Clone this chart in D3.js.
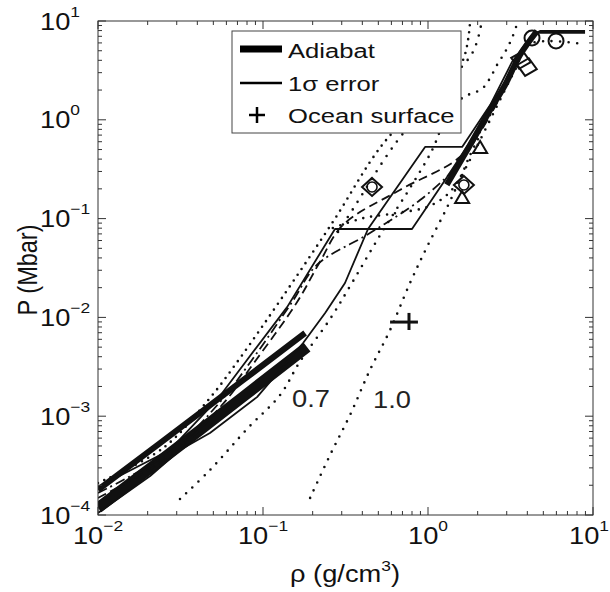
<!DOCTYPE html>
<html><head><meta charset="utf-8">
<script src="https://cdn.jsdelivr.net/npm/d3@7"></script>
<style>body{margin:0;background:#fff}svg{display:block}</style>
</head><body>
<svg id="c" width="610" height="592"></svg>
<script>
// ---------- data (rho in g/cm^3, P in Mbar) ----------
const adiabatA = [[0.01,1.8e-4],[0.0415,1.08e-3],[0.18,6.95e-3]];
const adiabatB = [[0.01,1.18e-4],[0.0415,7.24e-4],[0.185,5.0e-3]];
const errUpper = [[0.01,1.92e-4],[0.0273,4.55e-4],[0.0526,1.46e-3],[0.080,3.71e-3],[0.140,1.27e-2],[0.273,7.85e-2],[0.80,7.85e-2],[1.27,0.246],[1.67,0.494],[2.55,1.48],[3.37,3.76],[4.45,7.57],[8.95,7.57]];
const errLower = [[0.01,1.05e-4],[0.0207,2.48e-4],[0.0314,4.55e-4],[0.0477,6.76e-4],[0.092,1.56e-3],[0.175,5.5e-3],[0.238,1.11e-2],[0.314,2.23e-2],[0.433,7.85e-2],[0.96,0.531],[1.61,0.531],[2.38,1.41],[3.23,3.85],[4.27,7.21],[4.77,7.92],[8.95,7.92]];
const modelDashDot = [[0.01,1.67e-4],[0.0273,4.34e-4],[0.0548,1.39e-3],[0.0857,3.71e-3],[0.150,1.43e-2],[0.212,3.39e-2],[0.445,7.14e-2],[0.895,0.154],[1.46,0.325],[1.93,0.625],[2.62,1.48],[3.41,3.76],[4.45,7.38]];
const modelDashed = [[0.01,1.49e-4],[0.0273,3.95e-4],[0.0565,1.30e-3],[0.0908,3.71e-3],[0.161,1.43e-2],[0.221,3.64e-2],[0.305,8.61e-2],[0.676,0.195],[1.56,0.42],[2.07,0.826],[2.73,1.91],[3.51,4.23],[4.45,7.21]];
const dottedA = [[0.01,2.11e-4],[0.0248,4.76e-4],[0.0477,1.53e-3],[0.0726,3.88e-3],[0.130,1.57e-2],[0.265,9.24e-2],[0.533,0.569],[1.03,1.78],[1.61,3.85],[1.80,10]];
const dottedB = [[0.285,7.31e-2],[0.351,0.125],[0.631,0.569],[1.18,2.0],[1.87,4.85],[2.12,10]];
const dottedC = [[0.265,8.04e-2],[0.404,0.101],[0.649,0.114],[0.986,0.131],[1.30,0.173],[1.56,0.258],[1.80,0.441],[2.07,0.701]];
const isentrope07 = [[0.0314,1.45e-4],[0.0477,2.85e-4],[0.0811,7.6e-4],[0.127,1.64e-3],[0.167,3.54e-3],[0.255,9.64e-3],[0.346,2.23e-2],[0.526,7.31e-2],[0.778,0.204],[1.06,0.494],[1.27,0.995],[1.61,1.66],[2.12,2.05],[2.38,2.65],[2.62,3.59],[2.93,4.85],[3.23,6.73],[3.51,10]];
const isentrope10 = [[0.193,1.49e-4],[0.255,4.05e-4],[0.337,1.03e-3],[0.445,2.94e-3],[0.589,7.45e-3],[0.778,2.23e-2],[0.986,5.16e-2],[1.30,0.128],[1.61,0.276],[1.93,0.494],[2.55,1.26],[3.37,3.19],[4.15,5.85],[8.69,5.85]];
const interiorBand = [[1.30,0.22],[1.80,0.556],[2.38,1.26],[2.93,2.25],[3.61,4.53],[4.58,7.92]];

const bigCircleRho = [4.27, 5.97];
const bigCircleP   = [6.73, 6.28];
const diamondRho = [0.458, 1.65, 3.66, 3.98];
const diamondP   = [0.209, 0.219, 4.03, 3.42];
const smallCircleRho = [0.458, 1.65];
const smallCircleP   = [0.209, 0.219];
const triangleRho = [2.07, 1.61];
const triangleP   = [0.519, 0.162];

const oceanRho = 0.767, oceanP = 0.00897;
const oceanRhoRange = [0.589, 0.869];
const oceanPRange = [0.00745, 0.0111];

const curveLabels = ["0.7", "1.0"];
const curveLabelRho = [0.150, 0.464];
const curveLabelP = [1.24e-3, 1.21e-3];

const xExponents = [-2, -1, 0, 1];
const yExponents = [-4, -3, -2, -1, 0, 1];
const legendLabels = ["Adiabat", "1\u03C3 error", "Ocean surface"];
const xTitle = "\u03C1 (g/cm";
const yTitle = "P (Mbar)";

// ---------- layout ----------
const L = 98, R = 593, T = 21, B = 515;
const FONT = "'Liberation Sans', Arial, Helvetica, sans-serif";
const x = d3.scaleLog().domain([1e-2, 1e1]).range([L, R]);
const y = d3.scaleLog().domain([1e-4, 1e1]).range([B, T]);
const svg = d3.select("#c");
svg.append("rect").attr("width", 610).attr("height", 592).attr("fill", "#fff");
svg.append("defs").append("clipPath").attr("id", "clip")
  .append("rect").attr("x", L).attr("y", T).attr("width", R - L).attr("height", B - T);

const plot = svg.append("g").attr("clip-path", "url(#clip)");
const lin = d3.line().x(d => x(d[0])).y(d => y(d[1]));
const smooth = d3.line().curve(d3.curveCatmullRom.alpha(0.5)).x(d => x(d[0])).y(d => y(d[1]));

const series = [
  {d: adiabatB, gen: smooth, w: 11},
  {d: adiabatA, gen: smooth, w: 6},
  {d: interiorBand, gen: smooth, w: 6},
  {d: isentrope07, gen: smooth, w: 2.6, dash: "0,8.5", cap: "round"},
  {d: isentrope10, gen: smooth, w: 2.6, dash: "0,8.5", cap: "round"},
  {d: dottedA, gen: smooth, w: 2.6, dash: "0,7", cap: "round"},
  {d: dottedB, gen: smooth, w: 2.6, dash: "0,9", cap: "round"},
  {d: dottedC, gen: smooth, w: 2.6, dash: "0,8", cap: "round"},
  {d: modelDashDot, gen: smooth, w: 1.8, dash: "10,4,2,4"},
  {d: modelDashed, gen: smooth, w: 1.8, dash: "9,5"},
  {d: errUpper, gen: lin, w: 1.8},
  {d: errLower, gen: lin, w: 1.8}
];
series.forEach(s => {
  plot.append("path").attr("d", s.gen(s.d)).attr("fill", "none")
    .attr("stroke", "#111").attr("stroke-width", s.w)
    .attr("stroke-dasharray", s.dash || null)
    .attr("stroke-linecap", s.cap || "butt")
    .attr("stroke-linejoin", "round");
});

// markers
const dia = "M0,-9L10,0L0,9L-10,0Z";
diamondRho.forEach((r, i) => {
  plot.append("path").attr("d", dia)
    .attr("transform", `translate(${x(r)},${y(diamondP[i])}) rotate(${i >= 2 ? 12 : 0})`)
    .attr("fill", "none").attr("stroke", "#111").attr("stroke-width", 2);
});
smallCircleRho.forEach((r, i) => {
  plot.append("circle").attr("cx", x(r)).attr("cy", y(smallCircleP[i])).attr("r", 5)
    .attr("fill", "none").attr("stroke", "#111").attr("stroke-width", 1.6);
});
bigCircleRho.forEach((r, i) => {
  plot.append("circle").attr("cx", x(r)).attr("cy", y(bigCircleP[i])).attr("r", 7.5)
    .attr("fill", "none").attr("stroke", "#111").attr("stroke-width", 2);
});
triangleRho.forEach((r, i) => {
  plot.append("path").attr("d", "M0,-7L7,5L-7,5Z")
    .attr("transform", `translate(${x(r)},${y(triangleP[i])})`)
    .attr("fill", "none").attr("stroke", "#111").attr("stroke-width", 2);
});
// ocean surface
plot.append("line").attr("x1", x(oceanRhoRange[0])).attr("x2", x(oceanRhoRange[1]))
  .attr("y1", y(oceanP)).attr("y2", y(oceanP)).attr("stroke", "#111").attr("stroke-width", 3);
plot.append("line").attr("x1", x(oceanRho)).attr("x2", x(oceanRho))
  .attr("y1", y(oceanPRange[0])).attr("y2", y(oceanPRange[1])).attr("stroke", "#111").attr("stroke-width", 3);

function sText(parent, px, py, sx, size, anchor) {
  return parent.append("text").attr("transform", `translate(${px},${py}) scale(${sx},1)`)
    .attr("font-family", FONT).attr("font-size", size).attr("fill", "#111")
    .attr("text-anchor", anchor || "start");
}
curveLabels.forEach((t, i) => {
  sText(svg, x(curveLabelRho[i]), y(curveLabelP[i]), 1.16, 23.5).attr("fill", "#222").text(t);
});

// legend
const lg = svg.append("g");
lg.append("rect").attr("x", 232).attr("y", 31).attr("width", 229).attr("height", 102)
  .attr("fill", "#fff").attr("stroke", "#444").attr("stroke-width", 1);
lg.append("line").attr("x1", 240).attr("x2", 282).attr("y1", 49).attr("y2", 49).attr("stroke", "#000").attr("stroke-width", 7);
lg.append("line").attr("x1", 240).attr("x2", 282).attr("y1", 83).attr("y2", 83).attr("stroke", "#000").attr("stroke-width", 2.5);
lg.append("line").attr("x1", 249).attr("x2", 265).attr("y1", 115).attr("y2", 115).attr("stroke", "#000").attr("stroke-width", 2.5);
lg.append("line").attr("x1", 257).attr("x2", 257).attr("y1", 107).attr("y2", 123).attr("stroke", "#000").attr("stroke-width", 2.5);
[58, 91, 123].forEach((by, i) => sText(lg, 288, by, 1.22, 21).text(legendLabels[i]));

// frame & ticks
const ax = svg.append("g").attr("stroke", "#333").attr("stroke-width", 1);
ax.append("rect").attr("x", L).attr("y", T).attr("width", R - L).attr("height", B - T).attr("fill", "none");
const isMajor = t => Math.abs(Math.log10(t) - Math.round(Math.log10(t))) < 1e-6;
x.ticks().forEach(t => {
  const len = isMajor(t) ? 8 : 4, px = x(t);
  ax.append("line").attr("x1", px).attr("x2", px).attr("y1", B).attr("y2", B - len);
  ax.append("line").attr("x1", px).attr("x2", px).attr("y1", T).attr("y2", T + len);
});
y.ticks().forEach(t => {
  const len = isMajor(t) ? 8 : 4, py = y(t);
  ax.append("line").attr("y1", py).attr("y2", py).attr("x1", L).attr("x2", L + len);
  ax.append("line").attr("y1", py).attr("y2", py).attr("x1", R).attr("x2", R - len);
});
const expStr = e => (e < 0 ? "\u2212" + Math.abs(e) : String(e));
xExponents.forEach(e => {
  let cx = x(Math.pow(10, e));
  const t = sText(svg, cx, 544, 1.16, 23.5, "middle");
  t.append("tspan").text("10");
  t.append("tspan").attr("font-size", 15).attr("dy", -13).text(expStr(e));
  const w = t.node().getBBox().width * 1.16;
  if (cx + w / 2 > 609) { cx = 609 - w / 2; t.attr("transform", `translate(${cx},544) scale(1.16,1)`); }
});
yExponents.forEach(e => {
  const t = sText(svg, 40, y(Math.pow(10, e)) + 8.5, 1.16, 23.5, "start");
  t.append("tspan").text("10");
  t.append("tspan").attr("font-size", 15).attr("dy", -13).text(expStr(e));
});
// axis titles
const xt = sText(svg, 345, 582, 1.16, 23.5, "middle");
xt.append("tspan").text(xTitle);
xt.append("tspan").attr("font-size", 15).attr("dy", -11).text("3");
xt.append("tspan").attr("dy", 11).text(")");
svg.append("text").attr("transform", "translate(37,270) scale(1.16,1) rotate(-90)")
  .attr("font-family", FONT).attr("font-size", 23.5).attr("fill", "#111")
  .attr("text-anchor", "middle").text(yTitle);
</script>
</body></html>
